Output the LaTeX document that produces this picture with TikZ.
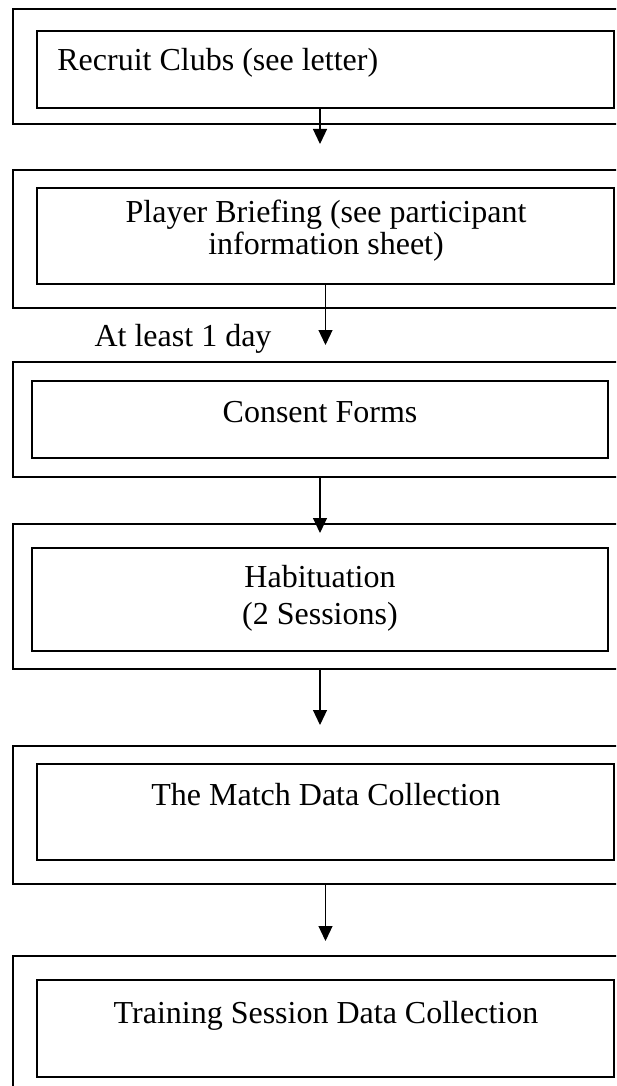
\documentclass[tikz,border=0pt]{standalone}
\usepackage{fontspec}
\setmainfont{Liberation Serif}
\usetikzlibrary{fit}
\usetikzlibrary{arrows.meta}
\tikzset{
	outbox/.style={draw, line width=0.8pt, inner sep=0pt},
	inbox/.style={draw, line width=0.75pt, inner sep=0pt},
	steptext/.style={inner sep=0pt, font=\fontsize{16pt}{18.5pt}\selectfont},
	flow/.style={-{Triangle[width=7pt,length=7.5pt]}, line width=0.6pt}
}

\begin{document}
\begin{tikzpicture}[x=0.5pt,y=-0.5pt]
		\path[use as bounding box] (0,0) rectangle (616,1086);
		\clip (0,0) rectangle (616,1086);

		% Outer frames
		\node[outbox, fit={(13,9) (650,124)}] (frame1) {};
		\node[outbox, fit={(13,170) (650,308)}] (frame2) {};
		\node[outbox, fit={(13,362) (650,477)}] (frame3) {};
		\node[outbox, fit={(13,524) (650,669)}] (frame4) {};
		\node[outbox, fit={(13,746) (650,884)}] (frame5) {};
		\node[outbox, fit={(13,956) (650,1110)}] (frame6) {};

		% Inner boxes
		\node[inbox, fit={(37,31) (614,108)}] (recruit) {};
		\node[inbox, fit={(37,188) (614,284)}] (briefing) {};
		\node[inbox, fit={(32,381) (608,458)}] (consent) {};
		\node[inbox, fit={(32,548) (608,651)}] (habit) {};
		\node[inbox, fit={(37,764) (614,860)}] (match) {};
		\node[inbox, fit={(37,980) (614,1077)}] (training) {};

		% Texts (base of a two-line node = its last line)
		\node[steptext, anchor=base west] (recruittxt) at (57,71) {Recruit Clubs (see letter)};
		\node[steptext, anchor=base, align=center,
			font=\fontsize{16pt}{14pt}\selectfont
		] (briefingtxt) at (326,254) {Player Briefing (see participant\\information sheet)};
		\node[steptext, anchor=base] (consenttxt) at (320,422) {Consent Forms};
		\node[steptext, anchor=base, align=center] (habittxt) at (320,624) {Habituation\\(2 Sessions)};
		\node[steptext, anchor=base] (matchtxt) at (326,805) {The Match Data Collection};
		\node[steptext, anchor=base] (trainingtxt) at (326,1023) {Training Session Data Collection};

		% Arrows
		\coordinate (tip1) at (320,144);
		\coordinate (tip2) at (325.5,345);
		\coordinate (tip3) at (320,533);
		\coordinate (tip4) at (320,725);
		\coordinate (tip5) at (325.5,941);

		\draw[flow] (recruit.south -| tip1) -- (tip1);
		\draw[flow] (briefing.south -| tip2) -- (tip2)
		node[steptext, anchor=base west] (gap) at (94,346) {At least 1 day};
		\draw[flow] (frame3.south -| tip3) -- (tip3);
		\draw[flow] (frame4.south -| tip4) -- (tip4);
		\draw[flow] (frame5.south -| tip5) -- (tip5);
\end{tikzpicture}
\end{document}
